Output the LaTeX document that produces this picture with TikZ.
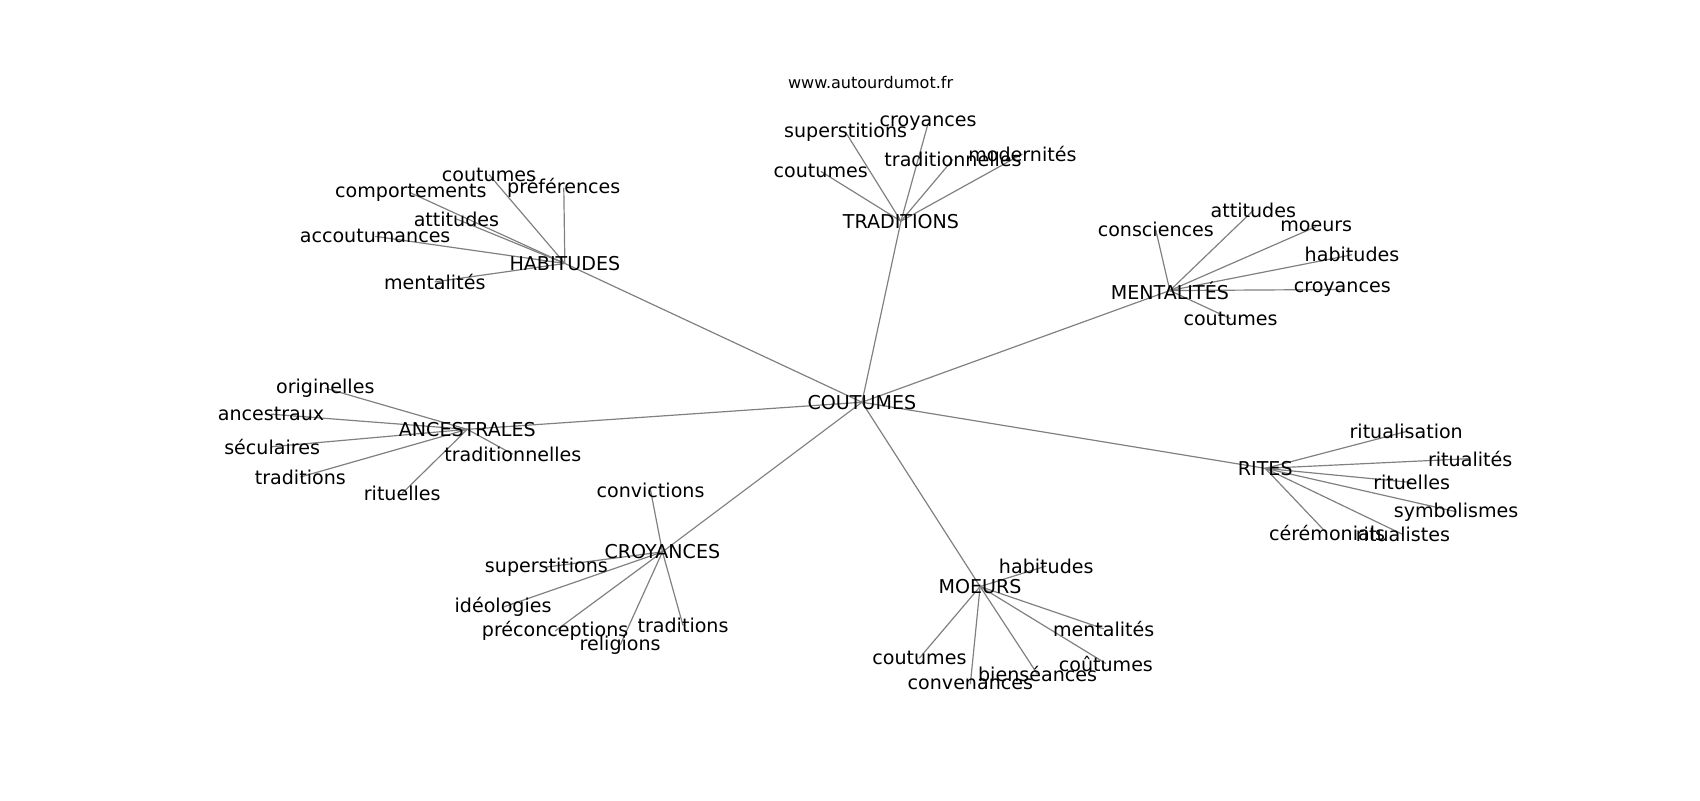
\documentclass[tikz,border=0pt]{standalone}
\usepackage{fontspec}
\setmainfont{DejaVu Sans}
\usetikzlibrary{positioning, backgrounds}
\tikzset{
    word/.style={
        inner sep=0pt,
        font=\fontsize{8.8}{10}\selectfont
    },
    site/.style={
        inner sep=0pt,
        font=\fontsize{7.4}{9}\selectfont
    },
    edge/.style={
        draw=black!50,
        line width=0.55pt
    }
}

\begin{document}
\begin{tikzpicture}[x=0.5pt, y=-0.5pt]
        \useasboundingbox (0,0) rectangle (1568,738);
        \node[site] (site) at (803,76) {www.autourdumot.fr};

        \node[word] (COUT) at (795,371) {COUTUMES};
        \node[word] (TRAD) at (831,204) {TRADITIONS};
        \node[word] (HAB) at (521,243) {HABITUDES};
        \node[word] (MENT) at (1079,268) {MENTALITÉS};
        \node[word] (ANC) at (431,396) {ANCESTRALES};
        \node[word] (RITES) at (1167,432) {RITES};
        \node[word] (CROY) at (611,509) {CROYANCES};
        \node[word] (MOEURS) at (904,541) {MOEURS};

        \node[word] (trad1) at (780,122) {superstitions};
        \node[word] (trad2) at (856,114) {croyances};
        \node[word] (trad3) at (757,158) {coutumes};
        \node[word] (trad4) at (879,147) {traditionnelles};
        \node[word] (trad5) at (943,142) {modernités};

        \node[word] (hab1) at (451,161) {coutumes};
        \node[word] (hab2) at (520,173) {préférences};
        \node[word] (hab3) at (379,178) {comportements};
        \node[word] (hab4) at (421,202) {attitudes};
        \node[word] (hab5) at (346,218) {accoutumances};
        \node[word] (hab6) at (401,260) {mentalités};

        \node[word] (ment1) at (1066,212) {consciences};
        \node[word] (ment2) at (1156,194) {attitudes};
        \node[word] (ment3) at (1214,209) {moeurs};
        \node[word] (ment4) at (1247,235) {habitudes};
        \node[word] (ment5) at (1238,267) {croyances};
        \node[word] (ment6) at (1135,294) {coutumes};

        \node[word] (anc1) at (300,358) {originelles};
        \node[word] (anc2) at (250,382) {ancestraux};
        \node[word] (anc3) at (251,412) {séculaires};
        \node[word] (anc4) at (277,440) {traditions};
        \node[word] (anc5) at (473,419) {traditionnelles};
        \node[word] (anc6) at (371,455) {rituelles};

        \node[word] (rite1) at (1297,398) {ritualisation};
        \node[word] (rite2) at (1356,423) {ritualités};
        \node[word] (rite3) at (1302,445) {rituelles};
        \node[word] (rite4) at (1343,472) {symbolismes};
        \node[word] (rite5) at (1224,492) {cérémonials};
        \node[word] (rite6) at (1294,493) {ritualistes};

        \node[word] (croy1) at (600,452) {convictions};
        \node[word] (croy2) at (504,523) {superstitions};
        \node[word] (croy3) at (464,560) {idéologies};
        \node[word] (croy4) at (512,582) {préconceptions};
        \node[word] (croy5) at (572,595) {religions};
        \node[word] (croy6) at (630,577) {traditions};

        \node[word] (moe1) at (965,522) {habitudes};
        \node[word] (moe2) at (1018,580) {mentalités};
        \node[word] (moe3) at (848,607) {coutumes};
        \node[word] (moe4) at (1020,612) {coûtumes};
        \node[word] (moe5) at (895,631) {convenances};
        \node[word] (moe6) at (957,622) {bienséances};

        \begin{scope}[on background layer]
        \draw[edge] (COUT.center) -- (TRAD.center);
        \draw[edge] (COUT.center) -- (HAB.center);
        \draw[edge] (COUT.center) -- (MENT.center);
        \draw[edge] (COUT.center) -- (ANC.center);
        \draw[edge] (COUT.center) -- (RITES.center);
        \draw[edge] (COUT.center) -- (CROY.center);
        \draw[edge] (COUT.center) -- (MOEURS.center);

        \draw[edge] (TRAD.center) -- (trad1.center);
        \draw[edge] (TRAD.center) -- (trad2.center);
        \draw[edge] (TRAD.center) -- (trad3.center);
        \draw[edge] (TRAD.center) -- (trad4.center);
        \draw[edge] (TRAD.center) -- (trad5.center);

        \draw[edge] (HAB.center) -- (hab1.center);
        \draw[edge] (HAB.center) -- (hab2.center);
        \draw[edge] (HAB.center) -- (hab3.center);
        \draw[edge] (HAB.center) -- (hab4.center);
        \draw[edge] (HAB.center) -- (hab5.center);
        \draw[edge] (HAB.center) -- (hab6.center);

        \draw[edge] (MENT.center) -- (ment1.center);
        \draw[edge] (MENT.center) -- (ment2.center);
        \draw[edge] (MENT.center) -- (ment3.center);
        \draw[edge] (MENT.center) -- (ment4.center);
        \draw[edge] (MENT.center) -- (ment5.center);
        \draw[edge] (MENT.center) -- (ment6.center);

        \draw[edge] (ANC.center) -- (anc1.center);
        \draw[edge] (ANC.center) -- (anc2.center);
        \draw[edge] (ANC.center) -- (anc3.center);
        \draw[edge] (ANC.center) -- (anc4.center);
        \draw[edge] (ANC.center) -- (anc5.center);
        \draw[edge] (ANC.center) -- (anc6.center);

        \draw[edge] (RITES.center) -- (rite1.center);
        \draw[edge] (RITES.center) -- (rite2.center);
        \draw[edge] (RITES.center) -- (rite3.center);
        \draw[edge] (RITES.center) -- (rite4.center);
        \draw[edge] (RITES.center) -- (rite5.center);
        \draw[edge] (RITES.center) -- (rite6.center);

        \draw[edge] (CROY.center) -- (croy1.center);
        \draw[edge] (CROY.center) -- (croy2.center);
        \draw[edge] (CROY.center) -- (croy3.center);
        \draw[edge] (CROY.center) -- (croy4.center);
        \draw[edge] (CROY.center) -- (croy5.center);
        \draw[edge] (CROY.center) -- (croy6.center);

        \draw[edge] (MOEURS.center) -- (moe1.center);
        \draw[edge] (MOEURS.center) -- (moe2.center);
        \draw[edge] (MOEURS.center) -- (moe3.center);
        \draw[edge] (MOEURS.center) -- (moe4.center);
        \draw[edge] (MOEURS.center) -- (moe5.center);
        \draw[edge] (MOEURS.center) -- (moe6.center);
        \end{scope}
    \end{tikzpicture}
\end{document}
